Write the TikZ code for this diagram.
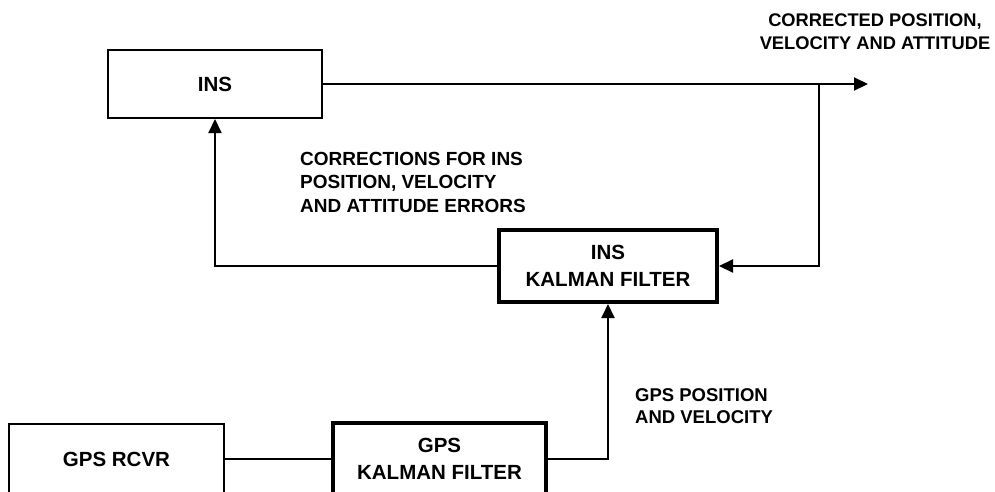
\documentclass[tikz,border=0pt]{standalone}
\usepackage{fontspec}
\setmainfont{Liberation Sans}
\usetikzlibrary{arrows.meta}
\begin{document}
\begin{tikzpicture}[x=1pt,y=-1pt,
  thinbox/.style={draw,line width=2pt,rectangle,inner sep=0pt,align=center,
    font=\bfseries\fontsize{20.5}{27}\selectfont},
  thickbox/.style={thinbox,line width=4pt},
  conn/.style={line width=2pt},
  arr/.style={conn,-{Triangle[length=14pt,width=13pt]}},
  lbl/.style={inner sep=0pt,font=\bfseries\fontsize{19}{23.5}\selectfont}]
\useasboundingbox (0,0) rectangle (995,491);
\node[thinbox,minimum width=214pt,minimum height=68pt] (ins) at (215,84) {INS};
\node[thickbox,minimum width=218pt,minimum height=72pt] (inskf) at (608,266) {INS\\KALMAN FILTER};
\node[thickbox,minimum width=213pt,minimum height=72pt] (gpskf) at (439.5,459) {GPS\\KALMAN FILTER};
\node[thinbox,minimum width=215pt,minimum height=70pt] (gpsrcvr) at (116.5,459) {GPS RCVR};
\coordinate (outend) at (868,84);
\coordinate (junc) at (819,84);
\draw[arr] (ins.east) -- (outend);
\draw[arr] (junc) |- (inskf.east);
\draw[arr] (inskf.west) -| (ins.south);
\draw[conn] (gpsrcvr.east) -- (gpskf.west);
\draw[arr] (gpskf.east) -| (inskf.south);
\node[lbl,align=center,font=\bfseries\fontsize{18.3}{23}\selectfont] (corrected) at (875,32) {CORRECTED POSITION,\\VELOCITY AND ATTITUDE};
\node[lbl,align=left,anchor=west] (corrections) at (300,182) {CORRECTIONS FOR INS\\POSITION, VELOCITY\\AND ATTITUDE ERRORS};
\node[lbl,align=left,anchor=west,font=\bfseries\fontsize{18.5}{21.5}\selectfont] (gpspos) at (635,406) {GPS POSITION\\AND VELOCITY};
\end{tikzpicture}
\end{document}
